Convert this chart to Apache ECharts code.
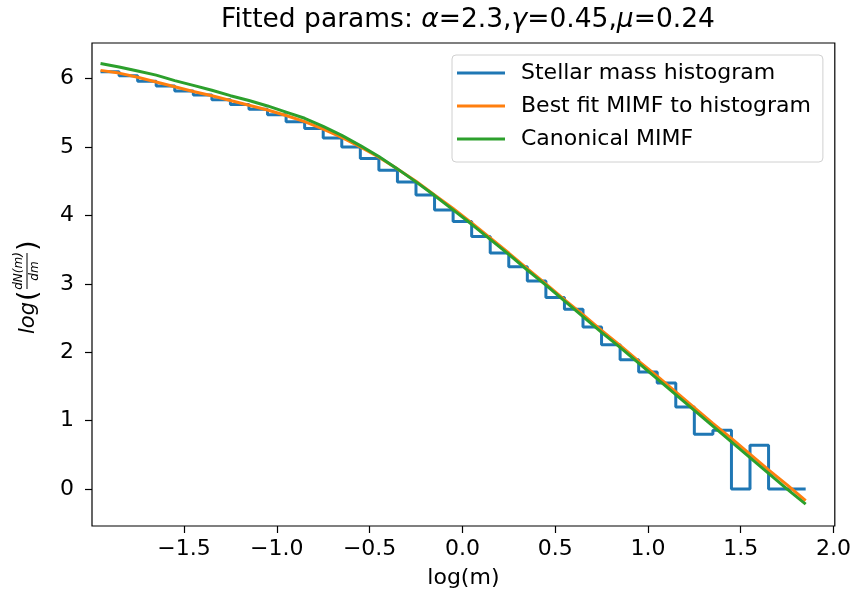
<!DOCTYPE html>
<html>
<head>
<meta charset="utf-8">
<script src="https://cdn.jsdelivr.net/npm/echarts@6/dist/echarts.min.js"></script>
<style>
html,body{margin:0;padding:0;background:#fff;}
#chart{width:854px;height:601px;}
</style>
</head>
<body>
<div id="chart"></div>
<script>
// Histogram bin edges (log m) and step levels
const binEdges = [-1.95,-1.85,-1.75,-1.65,-1.55,-1.45,-1.35,-1.25,-1.15,-1.05,
  -0.95,-0.85,-0.75,-0.65,-0.55,-0.45,-0.35,-0.25,-0.15,-0.05,
  0.05,0.15,0.25,0.35,0.45,0.55,0.65,0.75,0.85,0.95,
  1.05,1.15,1.25,1.35,1.45,1.55,1.65,1.75,1.85];
const histLevels = [6.10,6.04,5.96,5.89,5.82,5.76,5.69,5.62,5.55,5.47,
  5.37,5.27,5.13,5.00,4.83,4.66,4.49,4.30,4.08,3.91,
  3.69,3.45,3.25,3.04,2.80,2.63,2.37,2.11,1.89,1.71,
  1.55,1.20,0.80,0.86,0,0.64,0,0];
// Curves sampled at the same log m points
const curveX = binEdges;
const bestFit = [6.12,6.08,6.02,5.95,5.88,5.81,5.75,5.68,5.61,5.54,
  5.46,5.37,5.26,5.14,5.00,4.85,4.68,4.50,4.30,4.10,
  3.89,3.67,3.45,3.22,3.00,2.77,2.55,2.32,2.10,1.87,
  1.65,1.42,1.19,0.96,0.74,0.51,0.28,0.06,-0.17];
const canonical = [6.22,6.17,6.11,6.05,5.97,5.90,5.83,5.75,5.68,5.60,
  5.51,5.42,5.30,5.17,5.02,4.86,4.68,4.49,4.29,4.08,
  3.87,3.65,3.43,3.20,2.98,2.75,2.52,2.29,2.07,1.84,
  1.61,1.38,1.15,0.92,0.69,0.46,0.23,0.00,-0.22];
const xTicks = [-1.5,-1.0,-0.5,0.0,0.5,1.0,1.5,2.0];
const yTicks = [0,1,2,3,4,5,6];
const seriesNames = ['Stellar mass histogram','Best fit MIMF to histogram','Canonical MIMF'];

const histData = histLevels.map((v,i)=>[binEdges[i], v]);
histData.push([binEdges[binEdges.length-1], histLevels[histLevels.length-1]]);
const fitData = curveX.map((x,i)=>[x, bestFit[i]]);
const canData = curveX.map((x,i)=>[x, canonical[i]]);

const FONT = 'DejaVu Sans';
const FS = 22;
const chart = echarts.init(document.getElementById('chart'), null, {renderer:'canvas'});
chart.setOption({
  animation:false,
  backgroundColor:'#fff',
  textStyle:{fontFamily:FONT},
  title:{
    text:'Fitted params: {i|α}=2.3,{i|γ}=0.45,{i|μ}=0.24',
    left:463, textAlign:'center', top:2,
    textStyle:{fontFamily:FONT,fontSize:26.5,fontWeight:'normal',color:'#000',
      rich:{i:{fontFamily:FONT,fontSize:26.5,fontStyle:'italic',color:'#000'}}}
  },
  grid:{left:92,right:18,top:43,bottom:75,show:true,borderColor:'#000',borderWidth:1.2,backgroundColor:'transparent'},
  legend:{
    orient:'vertical', left:452, top:55,
    icon:'rect', itemWidth:48, itemHeight:3, itemGap:11,
    padding:[7,12,12,5],
    borderColor:'#d0d0d0', borderWidth:1, borderRadius:4, backgroundColor:'rgba(255,255,255,0.8)',
    textStyle:{fontFamily:FONT,fontSize:FS,color:'#000',lineHeight:22,padding:[0,0,0,11]},
    data:seriesNames
  },
  xAxis:{
    type:'value', min:-1.996, max:2.007,
    name:'log(m)', nameLocation:'middle', nameGap:41,
    nameTextStyle:{fontFamily:FONT,fontSize:FS,color:'#000'},
    axisLine:{show:false,onZero:false},
    axisTick:{show:true,length:7,lineStyle:{color:'#000',width:1.2},customValues:xTicks},
    axisLabel:{fontFamily:FONT,fontSize:FS,color:'#000',margin:12,customValues:xTicks,
      formatter:v=>(v<0?'\u2212':'')+Math.abs(v).toFixed(1)},
    splitLine:{show:false}
  },
  yAxis:{
    type:'value', min:-0.54, max:6.52,
    axisLine:{show:false,onZero:false},
    axisTick:{show:true,length:7,lineStyle:{color:'#000',width:1.2},customValues:yTicks},
    axisLabel:{fontFamily:FONT,fontSize:FS,color:'#000',margin:18,customValues:yTicks,
      formatter:v=>String(Math.round(v))},
    splitLine:{show:false}
  },
  series:[
    {name:seriesNames[0],type:'line',step:'end',data:histData,showSymbol:false,symbol:'none',
      lineStyle:{color:'#1f77b4',width:3},itemStyle:{color:'#1f77b4'}},
    {name:seriesNames[1],type:'line',data:fitData,showSymbol:false,symbol:'none',
      lineStyle:{color:'#ff7f0e',width:3},itemStyle:{color:'#ff7f0e'}},
    {name:seriesNames[2],type:'line',data:canData,showSymbol:false,symbol:'none',
      lineStyle:{color:'#2ca02c',width:3},itemStyle:{color:'#2ca02c'}}
  ],
  graphic:[{
    type:'group', x:30, y:286, rotation:Math.PI/2,
    children:[
      {type:'text',x:-48,y:-1,style:{text:'log',fontFamily:FONT,fontSize:21,fontStyle:'italic',fill:'#000',align:'left',verticalAlign:'middle'}},
      {type:'text',x:-15,y:-1,style:{text:'(',fontFamily:FONT,fontSize:27,fill:'#000',align:'left',verticalAlign:'middle'}},
      {type:'line',shape:{x1:-3,y1:-3,x2:33,y2:-3},style:{stroke:'#000',lineWidth:1}},
      {type:'text',x:15,y:-11,style:{text:'dN(m)',fontFamily:FONT,fontSize:12,fontStyle:'italic',fill:'#000',align:'center',verticalAlign:'middle'}},
      {type:'text',x:15,y:5,style:{text:'dm',fontFamily:FONT,fontSize:12,fontStyle:'italic',fill:'#000',align:'center',verticalAlign:'middle'}},
      {type:'text',x:35,y:-1,style:{text:')',fontFamily:FONT,fontSize:27,fill:'#000',align:'left',verticalAlign:'middle'}}
    ]
  }]
});
</script>
</body>
</html>
